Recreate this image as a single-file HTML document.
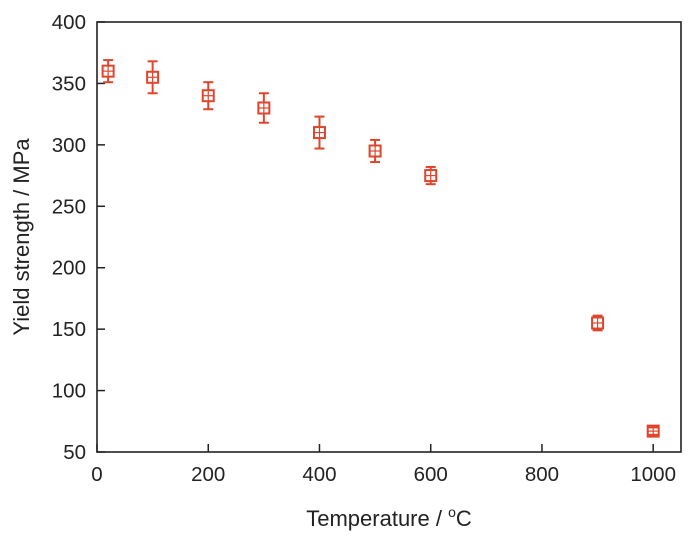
<!DOCTYPE html>
<html><head><meta charset="utf-8"><style>
body{margin:0;background:#fff;}
svg{display:block;font-family:"Liberation Sans",Arial,sans-serif;}
</style></head><body>
<svg id="chart" width="700" height="538" viewBox="0 0 700 538"></svg>
<script>
const temps=[20,100,200,300,400,500,600,900,1000];
const strength=[360,355,340,330,310,295,275,155,67];
const errors=[9,13,11,12,13,9,7,6,3];
const xTicks=[0,200,400,600,800,1000];
const yTicks=[50,100,150,200,250,300,350,400];
const L=97,R=681,T=22,B=452;
const xMin=0,xMax=1050,yMin=50,yMax=400;
const X=v=>L+(v-xMin)/(xMax-xMin)*(R-L);
const Y=v=>B-(v-yMin)/(yMax-yMin)*(B-T);
const svg=document.getElementById('chart');
const NS='http://www.w3.org/2000/svg';
function mk(tag,attrs,parent){const e=document.createElementNS(NS,tag);for(const k in attrs)e.setAttribute(k,attrs[k]);(parent||svg).appendChild(e);return e;}
const frame=mk('rect',{x:L,y:T,width:R-L,height:B-T,fill:'none',stroke:'#222','stroke-width':1.6});


const gx=mk('g',{});


xTicks.forEach(v=>{
  const t=mk('line',{x1:X(v),x2:X(v),y1:B,y2:B-8,stroke:'#222','stroke-width':1.5},gx);
  
  
  const l=mk('text',{x:X(v),y:B+29,'text-anchor':'middle','font-size':20.5,fill:'#222'},gx);
  l.textContent=v;
  
  
});
const gy=mk('g',{});


yTicks.forEach(v=>{
  const t=mk('line',{x1:L,x2:L+8,y1:Y(v),y2:Y(v),stroke:'#222','stroke-width':1.5},gy);
  
  
  const l=mk('text',{x:L-11,y:Y(v)+7,'text-anchor':'end','font-size':20.5,fill:'#222'},gy);
  l.textContent=v;
  
  
});
const xt=mk('text',{x:389,y:526,'text-anchor':'middle','font-size':22,fill:'#222'});
xt.innerHTML='Temperature / <tspan dy="-9" font-size="14">o</tspan><tspan dy="9">C</tspan>';


const yt=mk('text',{x:0,y:0,transform:`translate(29,${(T+B)/2}) rotate(-90)`,'text-anchor':'middle','font-size':22,fill:'#222'});
yt.textContent='Yield strength / MPa';


const c='#e0452c';
temps.forEach((tv,i)=>{
  const g=mk('g',{stroke:c,'stroke-width':2,fill:'none'});
  
  
  const x=X(tv),y=Y(strength[i]),yt=Y(strength[i]+errors[i]),yb=Y(strength[i]-errors[i]);
  mk('line',{x1:x,x2:x,y1:yt,y2:y-5.5},g);
  mk('line',{x1:x,x2:x,y1:y+5.5,y2:yb},g);
  mk('line',{x1:x-5,x2:x+5,y1:yt,y2:yt},g);
  mk('line',{x1:x-5,x2:x+5,y1:yb,y2:yb},g);
  mk('rect',{x:x-5.5,y:y-5.5,width:11,height:11},g);
  mk('line',{x1:x-5.5,x2:x+5.5,y1:y,y2:y,'stroke-width':1.2},g);
  mk('line',{x1:x,x2:x,y1:y-5.5,y2:y+5.5,'stroke-width':1.2},g);
});
</script>
</body></html>
